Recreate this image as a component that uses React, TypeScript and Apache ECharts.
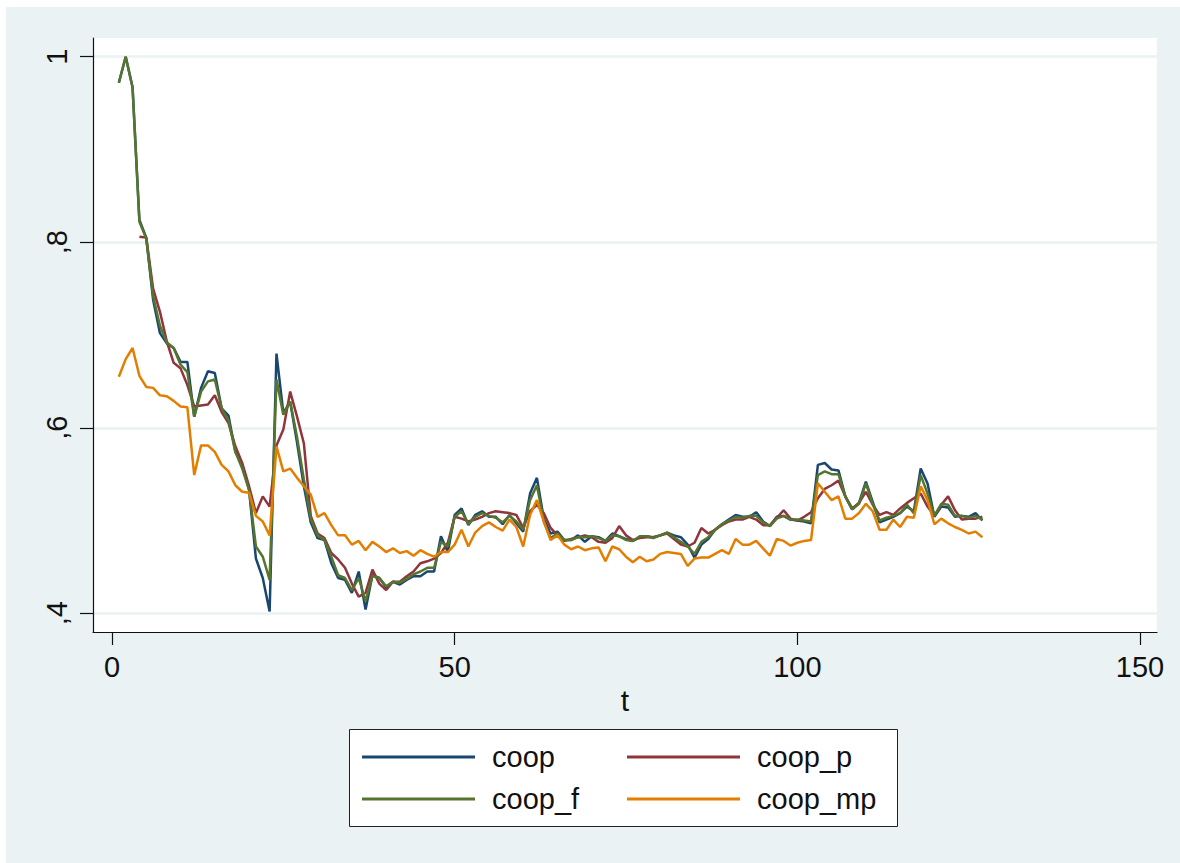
import React, { useEffect, useRef } from "react";
import * as echarts from "echarts";

// t runs from 1 to 127 (one value per period)
const T_FIRST = 1;

const coop = [
  0.972, 1.0, 0.967, 0.824, 0.805, 0.738, 0.702, 0.691, 0.686, 0.671,
  0.671, 0.612, 0.643, 0.661, 0.659, 0.621, 0.613, 0.574, 0.56, 0.533,
  0.459, 0.438, 0.402, 0.68, 0.616, 0.628, 0.584, 0.537, 0.498, 0.481,
  0.479, 0.454, 0.438, 0.436, 0.422, 0.445, 0.404, 0.441, 0.438, 0.428,
  0.434, 0.431, 0.436, 0.44, 0.44, 0.445, 0.445, 0.483, 0.466, 0.506,
  0.513, 0.495, 0.506, 0.51, 0.504, 0.504, 0.496, 0.506, 0.497, 0.488,
  0.529, 0.546, 0.502, 0.486, 0.488, 0.479, 0.479, 0.484, 0.477, 0.483,
  0.482, 0.478, 0.486, 0.483, 0.48, 0.478, 0.482, 0.483, 0.482, 0.484,
  0.487, 0.484, 0.482, 0.474, 0.46, 0.474, 0.48, 0.49, 0.496, 0.501,
  0.506, 0.504, 0.504, 0.509, 0.499, 0.494, 0.504, 0.505, 0.501, 0.5,
  0.499, 0.497, 0.56, 0.562, 0.555, 0.554, 0.526, 0.512, 0.519, 0.542,
  0.52, 0.498, 0.501, 0.504, 0.508, 0.515, 0.51, 0.556, 0.54, 0.504,
  0.515, 0.514, 0.504, 0.505, 0.504, 0.508, 0.5,
];

const coop_p = [
  null, null, null, 0.806, 0.805, 0.75, 0.725, 0.693, 0.67, 0.664,
  0.646, 0.623, 0.624, 0.625, 0.635, 0.617, 0.605, 0.58, 0.562, 0.537,
  0.508, 0.526, 0.515, 0.581, 0.598, 0.639, 0.612, 0.583, 0.505, 0.486,
  0.481, 0.465, 0.458, 0.449, 0.432, 0.418, 0.422, 0.447, 0.432, 0.425,
  0.434, 0.434, 0.44, 0.445, 0.454, 0.456, 0.459, 0.465, 0.476, 0.504,
  0.502, 0.499, 0.501, 0.504, 0.508, 0.51, 0.509, 0.508, 0.506, 0.492,
  0.51, 0.517, 0.508, 0.492, 0.484, 0.478, 0.48, 0.482, 0.484, 0.482,
  0.477, 0.476, 0.481, 0.494, 0.484, 0.479, 0.481, 0.482, 0.482, 0.484,
  0.486, 0.48, 0.474, 0.472, 0.476, 0.492, 0.486, 0.49, 0.495, 0.499,
  0.501, 0.501, 0.504, 0.501, 0.495, 0.495, 0.503, 0.511, 0.502, 0.5,
  0.504, 0.509, 0.524, 0.534, 0.538, 0.543, 0.526, 0.513, 0.519, 0.531,
  0.517, 0.506, 0.509, 0.506, 0.513, 0.519, 0.524, 0.529, 0.515, 0.505,
  0.517, 0.526, 0.511, 0.501, 0.502, 0.502, 0.504,
];

const coop_f = [
  0.972, 1.0, 0.967, 0.822, 0.804, 0.742, 0.71, 0.692, 0.686, 0.668,
  0.66, 0.612, 0.639, 0.65, 0.652, 0.621, 0.608, 0.574, 0.556, 0.533,
  0.472, 0.461, 0.436, 0.652, 0.614, 0.628, 0.59, 0.544, 0.502, 0.484,
  0.479, 0.461, 0.441, 0.438, 0.425, 0.438, 0.413, 0.44, 0.438, 0.429,
  0.434, 0.433, 0.437, 0.442, 0.445, 0.449, 0.449, 0.477, 0.472, 0.504,
  0.51, 0.496, 0.504, 0.508, 0.505, 0.503, 0.498, 0.505, 0.499, 0.49,
  0.522, 0.538, 0.499, 0.481, 0.486, 0.479, 0.479, 0.482, 0.482, 0.483,
  0.481, 0.478, 0.484, 0.483, 0.479, 0.478, 0.483, 0.483, 0.481, 0.484,
  0.487, 0.482, 0.477, 0.472, 0.464, 0.477, 0.482, 0.49, 0.496, 0.5,
  0.504, 0.503, 0.505, 0.505, 0.498, 0.494, 0.502, 0.505, 0.501, 0.501,
  0.5, 0.499, 0.549, 0.553, 0.55, 0.55, 0.526, 0.512, 0.518, 0.54,
  0.518, 0.5, 0.503, 0.505, 0.508, 0.517, 0.508, 0.549, 0.529, 0.505,
  0.518, 0.517, 0.505, 0.505, 0.503, 0.505, 0.501,
];

const coop_mp = [
  0.655, 0.674, 0.686, 0.656, 0.644, 0.643, 0.635, 0.634, 0.629, 0.623,
  0.622, 0.549, 0.581, 0.581, 0.574, 0.56, 0.553, 0.538, 0.531, 0.53,
  0.505, 0.499, 0.484, 0.58, 0.553, 0.556, 0.546, 0.537, 0.528, 0.504,
  0.508, 0.495, 0.484, 0.484, 0.474, 0.478, 0.468, 0.477, 0.472, 0.466,
  0.47, 0.465, 0.467, 0.462, 0.468, 0.464, 0.461, 0.466, 0.466, 0.474,
  0.49, 0.472, 0.487, 0.494, 0.498, 0.493, 0.489, 0.501, 0.493, 0.472,
  0.506, 0.522, 0.499, 0.479, 0.484, 0.474, 0.469, 0.472, 0.468, 0.47,
  0.471, 0.456, 0.472, 0.469, 0.461, 0.455, 0.461, 0.456, 0.458, 0.464,
  0.466, 0.465, 0.464, 0.451, 0.459, 0.46, 0.46, 0.464, 0.468, 0.464,
  0.48, 0.474, 0.474, 0.478, 0.47, 0.462, 0.48, 0.478, 0.473, 0.476,
  0.478, 0.479, 0.54, 0.531, 0.522, 0.526, 0.502, 0.502, 0.508, 0.518,
  0.51, 0.49, 0.49, 0.501, 0.493, 0.504, 0.503, 0.537, 0.522, 0.496,
  0.502, 0.497, 0.493, 0.49, 0.486, 0.488, 0.482,
];

const SERIES_NAMES = ["coop", "coop_p", "coop_f", "coop_mp"];
const SERIES_VALUES = [coop, coop_p, coop_f, coop_mp];
const SERIES_COLORS = ["#1a476f", "#90353b", "#55752f", "#e37e00"];

const X_TICKS = [0, 50, 100, 150];
const Y_TICKS = [0.4, 0.6, 0.8, 1];
const Y_TICK_LABELS = [",4", ",6", ",8", "1"];

const FONT = "'Liberation Sans', Arial, Helvetica, sans-serif";
const PANEL_BG = "#eaf2f3";

function toPairs(vals: (number | null)[]) {
  return vals.map((v, i) => [T_FIRST + i, v === null ? "-" : v]);
}

export default function App() {
  const ref = useRef<HTMLDivElement>(null);

  useEffect(() => {
    document.body.style.margin = "0";
    const el = ref.current;
    if (!el) return;
    const chart = echarts.init(el, null, { renderer: "svg" });

    const legendCommon = {
      orient: "vertical" as const,
      top: 740,
      padding: 0,
      itemWidth: 113,
      itemHeight: 3,
      itemGap: 8,
      icon: "rect",
      textStyle: {
        fontSize: 29,
        lineHeight: 34,
        color: "#111",
        fontFamily: FONT,
        padding: [0, 0, 0, 12],
      },
      selectedMode: false,
    };

    chart.setOption({
      animation: false,
      backgroundColor: "#ffffff",
      graphic: [
        {
          type: "rect",
          z: -100,
          shape: { x: 6, y: 7, width: 1174, height: 856 },
          style: { fill: PANEL_BG },
          silent: true,
        },
        {
          type: "rect",
          z: 1,
          shape: { x: 349.5, y: 729.5, width: 548, height: 97 },
          style: { fill: "#ffffff", stroke: "#222", lineWidth: 1 },
          silent: true,
        },
      ],
      grid: {
        left: 93,
        top: 38,
        width: 1064,
        height: 594,
        show: true,
        backgroundColor: "#ffffff",
        borderWidth: 0,
        z: 0,
      },
      xAxis: {
        type: "value",
        min: -2.772,
        max: 152.48,
        name: "t",
        nameLocation: "middle",
        nameGap: 50,
        nameTextStyle: { fontSize: 30, color: "#111", fontFamily: FONT },
        axisLine: { show: true, onZero: false, lineStyle: { color: "#111", width: 1.2 } },
        axisTick: {
          show: true,
          customValues: X_TICKS,
          length: 13,
          lineStyle: { color: "#111", width: 1.2 },
        },
        axisLabel: {
          customValues: X_TICKS,
          margin: 20,
          fontSize: 29,
          color: "#111",
          fontFamily: FONT,
        },
        splitLine: { show: false },
      },
      yAxis: {
        type: "value",
        min: 0.3798,
        max: 1.0202,
        axisLine: { show: true, onZero: false, lineStyle: { color: "#111", width: 1.2 } },
        axisTick: {
          show: true,
          customValues: Y_TICKS,
          length: 13,
          lineStyle: { color: "#111", width: 1.2 },
        },
        axisLabel: {
          customValues: Y_TICKS,
          rotate: 90,
          margin: 22,
          fontSize: 29,
          color: "#111",
          fontFamily: FONT,
          formatter: (v: number) => {
            const idx = Y_TICKS.findIndex((t) => Math.abs(t - v) < 1e-6);
            return idx >= 0 ? Y_TICK_LABELS[idx] : "";
          },
        },
        splitLine: { show: true, lineStyle: { color: PANEL_BG, width: 2.5 } },
      },
      legend: [
        { ...legendCommon, left: 362, data: ["coop", "coop_f"] },
        { ...legendCommon, left: 627, data: ["coop_p", "coop_mp"] },
      ],
      series: SERIES_NAMES.map((name, i) => ({
        name,
        type: "line",
        data: toPairs(SERIES_VALUES[i]),
        showSymbol: false,
        symbol: "none",
        connectNulls: false,
        color: SERIES_COLORS[i],
        itemStyle: { color: SERIES_COLORS[i] },
        lineStyle: { color: SERIES_COLORS[i], width: 2.5 },
        z: 2 + i,
      })),
    });

    return () => chart.dispose();
  }, []);

  return <div ref={ref} style={{ width: 1180, height: 863 }} />;
}
